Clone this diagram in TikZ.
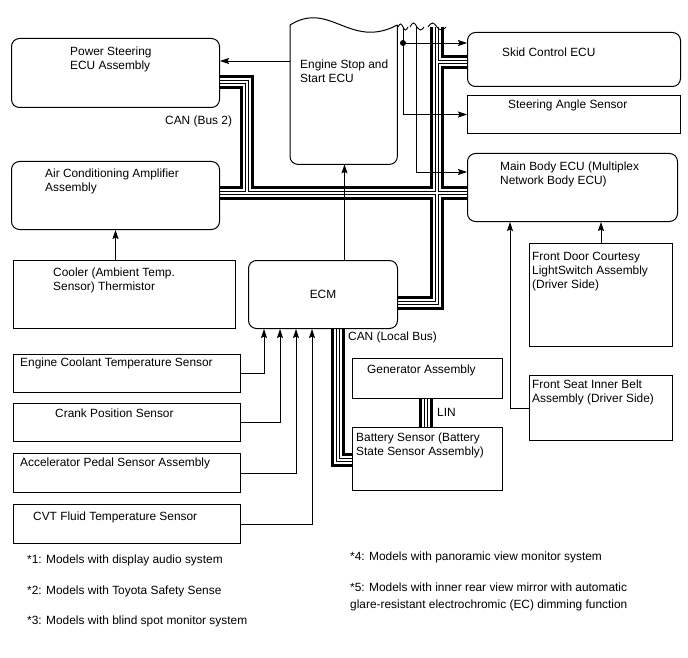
\documentclass[tikz,border=0pt]{standalone}
\usepackage{fontspec}
\setmainfont{Liberation Sans}
\usetikzlibrary{arrows.meta, positioning, calc}
\pgfdeclarelayer{bg}
\pgfsetlayers{bg,main}

\begin{document}
\begin{tikzpicture}[x=1pt, y=-1pt,
    unit/.style={draw, line width=1pt, rounded corners=8pt, anchor=north west, inner sep=0pt},
    part/.style={draw, line width=1pt, anchor=north west, inner sep=0pt},
    txt/.style={font=\fontsize{11.9}{14}\selectfont, align=left, inner sep=0pt, anchor=north west},
    note/.style={font=\fontsize{11.9}{17}\selectfont, align=left, inner sep=0pt, anchor=base west},
    wire/.style={line width=0.9pt, -{Stealth[length=9pt, width=6pt, inset=1.5pt]}}]
  \useasboundingbox (0,0) rectangle (688,658);

  % Body side
  \node[unit, minimum width=208pt, minimum height=69pt,
    label={[txt, xshift=59pt, yshift=-9pt]north west:Power Steering\\ECU Assembly}] (ps) at (11,38) {};
  \node[unit, minimum width=208pt, minimum height=68pt,
    label={[txt, xshift=34pt, yshift=-8pt]north west:Air Conditioning Amplifier\\Assembly}] (ac) at (11,161) {};
  \node[part, minimum width=222pt, minimum height=68pt,
    label={[txt, xshift=40pt, yshift=-8pt]north west:Cooler (Ambient Temp.\\Sensor) Thermistor}] (cool) at (13,260) {};

  % Engine Stop and Start ECU (wavy top)
  \node[anchor=north west, minimum width=107pt, minimum height=139pt, inner sep=0pt,
    label={[txt, xshift=10pt, yshift=-35pt]north west:Engine Stop and\\Start ECU}] (ess) at (290,25) {};
  \draw[line width=1pt] (ess.north west) .. controls (330,0) and (350,50) .. (ess.north east);
  \draw[line width=1pt, rounded corners=8pt] (ess.north west) -- (ess.south west) -- (ess.south east) -- (ess.north east);

  % Right column
  \node[unit, minimum width=213pt, minimum height=54pt,
    label={[txt, xshift=35pt, yshift=-16pt]north west:Skid Control ECU}] (skid) at (467,32) {};
  \node[part, minimum width=213pt, minimum height=38pt,
    label={[txt, xshift=41pt, yshift=-5pt]north west:Steering Angle Sensor}] (steer) at (467,95) {};
  \node[unit, minimum width=210pt, minimum height=68pt,
    label={[txt, xshift=33pt, yshift=-9pt]north west:Main Body ECU (Multiplex\\Network Body ECU)}] (mb) at (467,153) {};
  \node[part, minimum width=143pt, minimum height=103pt,
    label={[txt, xshift=3pt, yshift=-9pt]north west:Front Door Courtesy\\LightSwitch Assembly\\(Driver Side)}] (fd) at (529,243) {};
  \node[part, minimum width=143pt, minimum height=65pt,
    label={[txt, xshift=3pt, yshift=-5pt]north west:Front Seat Inner Belt\\Assembly (Driver Side)}] (fs) at (529,375) {};

  % Engine side
  \node[unit, minimum width=149pt, minimum height=68pt, font=\fontsize{11.9}{14}\selectfont] (ecm) at (248,260) {ECM};
  \node[part, minimum width=150pt, minimum height=40pt,
    label={[txt, xshift=15pt, yshift=-7pt]north west:Generator Assembly}] (gen) at (352,358) {};
  \node[part, minimum width=150pt, minimum height=63pt,
    label={[txt, xshift=4pt, yshift=-6pt]north west:Battery Sensor (Battery\\State Sensor Assembly)}] (bat) at (352,427) {};
  \node[part, minimum width=227pt, minimum height=38pt,
    label={[txt, xshift=7pt, yshift=-4pt]north west:Engine Coolant Temperature Sensor}] (ect) at (13,354) {};
  \node[part, minimum width=227pt, minimum height=38pt,
    label={[txt, xshift=42pt, yshift=-6pt]north west:Crank Position Sensor}] (crank) at (13,403) {};
  \node[part, minimum width=227pt, minimum height=39pt,
    label={[txt, xshift=7pt, yshift=-5pt]north west:Accelerator Pedal Sensor Assembly}] (acc) at (13,453) {};
  \node[part, minimum width=227pt, minimum height=39pt,
    label={[txt, xshift=20pt, yshift=-8pt]north west:CVT Fluid Temperature Sensor}] (cvt) at (13,504) {};

  % Bus labels
  \node[txt, anchor=base west] (can2) at (165,125) {CAN (Bus 2)};
  \node[txt, anchor=base west] (canl) at (348,340) {CAN (Local Bus)};
  \node[txt, anchor=base west] (lin) at (437,416) {LIN};

  % Bus routing points
  \coordinate (b2) at (247,82);
  \coordinate (hb) at (0,193);
  \coordinate (vb) at (437,27);
  \coordinate (vbend) at (437,303);
  \coordinate (skidy) at (0,62);
  \coordinate (lb) at (338,460);
  \coordinate (linx) at (426,0);

  % CAN / LIN buses
  \begin{pgfonlayer}{bg}
  \fill[white] (0,0) rectangle (688,658);
  \foreach \w/\c in {14/black, 8/white, 4/black, 2/white}
    \draw[line width=\w pt, \c]
      (ps.east |- b2) -- (b2) -- (b2 |- hb)
      (ac.east |- hb) -- (mb.west |- hb)
      (vb) -- (vbend) -- (ecm.east |- vbend)
      (vb |- skidy) -- (skid.west |- skidy)
      (ecm.south -| lb) -- (lb) -- (bat.west |- lb)
      (gen.south -| linx) -- (bat.north -| linx);
  \end{pgfonlayer}

  % Signal lines
  \coordinate (t1) at (403,27);
  \coordinate (t2) at (416,27);
  \coordinate (dot) at (403,43);
  \coordinate (psy) at (0,61);
  \coordinate (mby) at (0,172);
  \draw[wire] (ess.west |- psy) -- (ps.east |- psy);
  \draw[wire] ([xshift=21.5pt]ecm.north) -- ([xshift=21.5pt]ecm.north |- ess.south);
  \draw[wire] (t1) |- (steer.west);
  \draw[wire] (dot) -- (skid.west |- dot);
  \fill (dot) circle (3pt);
  \draw[wire] (t2) |- (mb.west |- mby);
  \draw[wire] ([xshift=-9pt]cool.north) -- ([xshift=-9pt]cool.north |- ac.south);
  \draw[wire] (fd.north) -- (fd.north |- mb.south);
  \draw[wire] (fs.west) -| ([xshift=43pt]mb.south west);
  \draw[wire] (ect.east) -| ([xshift=16pt]ecm.south west);
  \draw[wire] (crank.east) -| ([xshift=32pt]ecm.south west);
  \draw[wire] (acc.east) -| ([xshift=48pt]ecm.south west);
  \draw[wire] (cvt.east) -| ([xshift=64pt]ecm.south west);

  % Break marks
  \draw[line width=0.9pt] (398,27) sin (400.5,24) cos (403,27) sin (405.5,30) cos (408,27);
  \draw[line width=0.9pt] (410,27) sin (413.5,23) cos (417,27) sin (420.5,30) cos (424,27);
  \draw[line width=0.9pt] (428,27) sin (432.5,23) cos (437,27) sin (441.5,30) cos (446,27);

  % Notes
  \node[note] (n1) at (27,563) {*1: Models with display audio system};
  \node[note] (n2) at (27,594) {*2: Models with Toyota Safety Sense};
  \node[note] (n3) at (27,624) {*3: Models with blind spot monitor system};
  \node[note] (n4) at (350,560) {*4: Models with panoramic view monitor system};
  \node[note] (n5) at (350,608) {*5: Models with inner rear view mirror with automatic\\glare-resistant electrochromic (EC) dimming function};
\end{tikzpicture}
\end{document}
